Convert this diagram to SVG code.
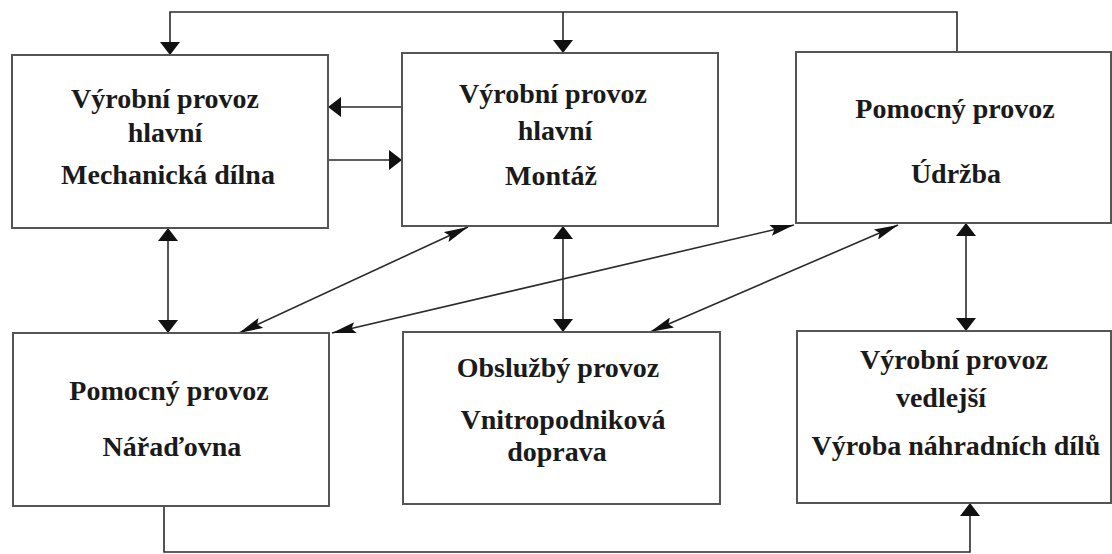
<svg xmlns="http://www.w3.org/2000/svg" width="1112" height="554" viewBox="0 0 1112 554">
  <style>
    .box { fill: #ffffff; stroke: #555555; stroke-width: 2; }
    .lbl { font-family: "Liberation Serif", "Times New Roman", serif; font-weight: bold; font-size: 28px; fill: #1a1a1a; text-anchor: middle; }
    .ln { fill: none; stroke: #2a2a2a; stroke-width: 1.6; }
    .blunt { marker-end: url(#tri); }
    .blunt2 { marker-start: url(#tri); marker-end: url(#tri); }
    .slim2 { marker-start: url(#spear); marker-end: url(#spear); }
  </style>
  <defs>
    <marker id="tri" markerUnits="userSpaceOnUse" viewBox="0 0 13 20" refX="13" refY="10" markerWidth="13" markerHeight="20" orient="auto-start-reverse">
      <path d="M0,0 L13,10 L0,20 Z" fill="#111111"/>
    </marker>
    <marker id="spear" markerUnits="userSpaceOnUse" viewBox="0 0 24 11" refX="24" refY="5.5" markerWidth="24" markerHeight="11" orient="auto-start-reverse">
      <path d="M0,0 L24,5.5 L0,11 L4,5.5 Z" fill="#111111"/>
    </marker>
  </defs>
  <rect width="1112" height="554" fill="#ffffff"/>

  <!-- connectors -->
  <g id="connectors">
    <!-- feedback loop along the top from Údržba -->
    <path class="ln" d="M957,52 V12 H170 V55" marker-end="url(#tri)"/>
    <path class="ln" d="M563,12 V53" marker-end="url(#tri)"/>
    <!-- Montáž <-> Mechanická dílna -->
    <path class="ln" d="M402,107 H328" marker-end="url(#tri)"/>
    <path class="ln" d="M328,160 H402" marker-end="url(#tri)"/>
    <!-- vertical two-way links -->
    <path class="ln blunt2" d="M168,228 V333"/>
    <path class="ln blunt2" d="M563,226 V332"/>
    <path class="ln blunt2" d="M966,223 V331"/>
    <!-- diagonal two-way links -->
    <path class="ln slim2" d="M239,333 L468,227"/>
    <path class="ln slim2" d="M332,333 L794,225"/>
    <path class="ln slim2" d="M650,332 L898,225"/>
    <!-- loop along the bottom into Výroba náhradních dílů -->
    <path class="ln" d="M164,505 V552 H970 V503" marker-end="url(#tri)"/>
  </g>

  <g id="mechanicka-dilna">
    <rect class="box" x="12" y="55" width="316" height="173"/>
    <text class="lbl" x="165" y="108">Výrobní provoz</text>
    <text class="lbl" x="165" y="142">hlavní</text>
    <text class="lbl" x="168" y="184">Mechanická dílna</text>
  </g>

  <g id="montaz">
    <rect class="box" x="402" y="53" width="316" height="173"/>
    <text class="lbl" x="553" y="103">Výrobní provoz</text>
    <text class="lbl" x="555" y="140">hlavní</text>
    <text class="lbl" x="551" y="185">Montáž</text>
  </g>

  <g id="udrzba">
    <rect class="box" x="796" y="52" width="315" height="171"/>
    <text class="lbl" x="955" y="118">Pomocný provoz</text>
    <text class="lbl" x="956" y="183">Údržba</text>
  </g>

  <g id="naradovna">
    <rect class="box" x="13" y="333" width="316" height="173"/>
    <text class="lbl" x="169" y="400">Pomocný provoz</text>
    <text class="lbl" x="172" y="456">Nářaďovna</text>
  </g>

  <g id="vnitropodnikova-doprava">
    <rect class="box" x="403" y="332" width="317" height="172"/>
    <text class="lbl" x="558" y="377">Obslužbý provoz</text>
    <text class="lbl" x="563" y="429">Vnitropodniková</text>
    <text class="lbl" x="557" y="461">doprava</text>
  </g>

  <g id="vyroba-nahradnich-dilu">
    <rect class="box" x="797" y="331" width="314" height="172"/>
    <text class="lbl" x="954" y="369">Výrobní provoz</text>
    <text class="lbl" x="941" y="407">vedlejší</text>
    <text class="lbl" x="956" y="455">Výroba náhradních dílů</text>
  </g>
</svg>
